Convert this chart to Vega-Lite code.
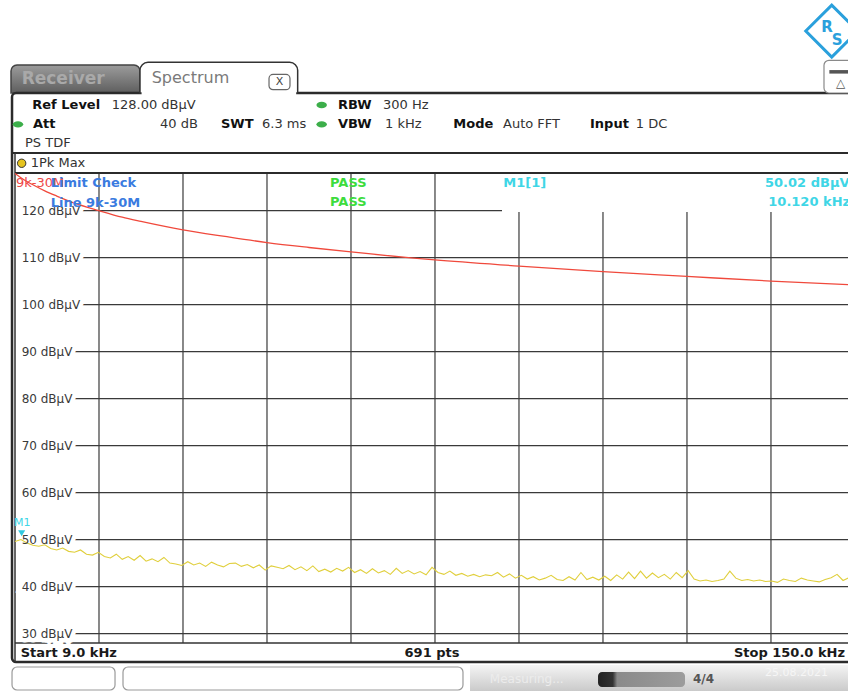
{
 "$schema": "https://vega.github.io/schema/vega-lite/v6.json",
 "width": 833,
 "height": 470,
 "autosize": {"type": "none"},
 "padding": {"left": 15, "top": 173, "right": 0, "bottom": 48},
 "background": "#ffffff",
 "config": {"view": {"stroke": null}, "text": {"font": "DejaVu Sans"}, "axis": {"disable": true}},
 "data": {"values": [{}]},
 "datasets": {
  "trace": [
   {"f":9,"level":49.6},{"f":10,"level":50.0},{"f":11,"level":49.3},{"f":12,"level":48.8},{"f":13,"level":48.6},{"f":14,"level":48.9},{"f":15,"level":48.1},{"f":16,"level":47.8},{"f":17,"level":48.2},{"f":18,"level":47.5},
   {"f":19,"level":47.3},{"f":20,"level":47.8},{"f":21,"level":46.9},{"f":22,"level":46.7},{"f":23,"level":47.3},{"f":24,"level":46.4},{"f":25,"level":46.1},{"f":26,"level":46.9},{"f":27,"level":45.8},{"f":28,"level":46.4},
   {"f":29,"level":45.6},{"f":30,"level":46.6},{"f":31,"level":45.4},{"f":32,"level":45.9},{"f":33,"level":45.3},{"f":34,"level":46.2},{"f":35,"level":45.0},{"f":36,"level":44.8},{"f":37,"level":44.5},{"f":38,"level":45.3},
   {"f":39,"level":44.6},{"f":40,"level":45.0},{"f":41,"level":44.3},{"f":42,"level":45.2},{"f":43,"level":44.6},{"f":44,"level":44.2},{"f":45,"level":44.9},{"f":46,"level":45.0},{"f":47,"level":44.3},{"f":48,"level":44.7},
   {"f":49,"level":44.0},{"f":50,"level":44.6},{"f":51,"level":43.5},{"f":52,"level":44.4},{"f":53,"level":44.1},{"f":54,"level":43.8},{"f":55,"level":44.5},{"f":56,"level":43.6},{"f":57,"level":44.2},{"f":58,"level":43.4},
   {"f":59,"level":44.4},{"f":60,"level":43.2},{"f":61,"level":43.7},{"f":62,"level":43.1},{"f":63,"level":43.9},{"f":64,"level":43.3},{"f":65,"level":44.1},{"f":66,"level":43.0},{"f":67,"level":43.6},{"f":68,"level":42.8},
   {"f":69,"level":43.8},{"f":70,"level":42.9},{"f":71,"level":43.4},{"f":72,"level":42.6},{"f":73,"level":43.9},{"f":74,"level":42.8},{"f":75,"level":43.4},{"f":76,"level":42.7},{"f":77,"level":43.2},{"f":78,"level":42.5},
   {"f":79,"level":44.1},{"f":80,"level":43.0},{"f":81,"level":42.6},{"f":82,"level":43.3},{"f":83,"level":42.4},{"f":84,"level":42.8},{"f":85,"level":42.2},{"f":86,"level":42.6},{"f":87,"level":42.1},{"f":88,"level":42.5},
   {"f":89,"level":42.3},{"f":90,"level":43.0},{"f":91,"level":42.0},{"f":92,"level":42.7},{"f":93,"level":41.8},{"f":94,"level":42.4},{"f":95,"level":41.6},{"f":96,"level":42.1},{"f":97,"level":41.4},{"f":98,"level":41.8},
   {"f":99,"level":42.4},{"f":100,"level":41.5},{"f":101,"level":41.3},{"f":102,"level":42.1},{"f":103,"level":41.4},{"f":104,"level":43.0},{"f":105,"level":41.5},{"f":106,"level":42.0},{"f":107,"level":41.4},{"f":108,"level":42.2},
   {"f":109,"level":41.3},{"f":110,"level":42.5},{"f":111,"level":41.6},{"f":112,"level":43.1},{"f":113,"level":41.7},{"f":114,"level":43.3},{"f":115,"level":41.8},{"f":116,"level":42.9},{"f":117,"level":41.9},{"f":118,"level":42.6},
   {"f":119,"level":41.6},{"f":120,"level":43.0},{"f":121,"level":41.9},{"f":122,"level":43.4},{"f":123,"level":41.6},{"f":124,"level":41.2},{"f":125,"level":41.4},{"f":126,"level":41.1},{"f":127,"level":41.3},{"f":128,"level":41.6},
   {"f":129,"level":43.3},{"f":130,"level":41.8},{"f":131,"level":41.3},{"f":132,"level":41.5},{"f":133,"level":41.2},{"f":134,"level":41.4},{"f":135,"level":41.1},{"f":136,"level":41.2},{"f":137,"level":40.9},{"f":138,"level":41.6},
   {"f":139,"level":41.3},{"f":140,"level":41.1},{"f":141,"level":41.8},{"f":142,"level":41.4},{"f":143,"level":41.2},{"f":144,"level":41.0},{"f":145,"level":41.5},{"f":146,"level":41.9},{"f":147,"level":42.6},{"f":148,"level":41.3},
   {"f":149,"level":41.9},{"f":150,"level":41.5}
  ],
  "limit": [
   {"f":9,"level":127.9},{"f":10,"level":127.0},{"f":11,"level":126.2},{"f":12,"level":125.5},{"f":14,"level":124.2},{"f":16,"level":123.1},{"f":19,"level":121.6},{"f":23.1,"level":120.0},{"f":27,"level":118.6},{"f":30.15,"level":117.7},
   {"f":37.2,"level":115.9},{"f":44.25,"level":114.5},{"f":51.3,"level":113.2},{"f":58.35,"level":112.15},{"f":65.4,"level":111.2},{"f":79.5,"level":109.5},{"f":93.6,"level":108.2},{"f":107.7,"level":107.0},{"f":121.8,"level":106.0},{"f":135.9,"level":105.0},{"f":150,"level":104.2}
  ],
  "ylab": [
   {"level":120,"label":"120 dBµV"},{"level":110,"label":"110 dBµV"},{"level":100,"label":"100 dBµV"},{"level":90,"label":"90 dBµV"},{"level":80,"label":"80 dBµV"},
   {"level":70,"label":"70 dBµV"},{"level":60,"label":"60 dBµV"},{"level":50,"label":"50 dBµV"},{"level":40,"label":"40 dBµV"},{"level":30,"label":"30 dBµV"}
  ],
  "xgrid": [{"f":23.1},{"f":37.2},{"f":51.3},{"f":65.4},{"f":79.5},{"f":93.6},{"f":107.7},{"f":121.8},{"f":135.9}]
 },
 "layer": [
  {"mark": {"type": "rect", "cornerRadiusTopLeft": 6, "cornerRadiusTopRight": 6, "stroke": "#444444", "strokeWidth": 1.5,
    "fill": {"gradient": "linear", "x1": 0, "y1": 0, "x2": 0, "y2": 1, "stops": [{"offset": 0, "color": "#9c9c9c"}, {"offset": 1, "color": "#5e5e5e"}]}},
   "encoding": {"x": {"datum": 8.33}, "x2": {"datum": 29.98}, "y": {"datum": 150.98}, "y2": {"datum": 145.02}}},
  {"mark": {"type": "rect", "cornerRadius": 4, "stroke": "#2b2b2b", "strokeWidth": 2.5, "fill": "#ffffff", "fillOpacity": 0},
   "encoding": {"x": {"datum": 8.5}, "x2": {"datum": 150.8}, "y": {"datum": 145.02}, "y2": {"datum": 23.96}}},
  {"mark": {"type": "rect", "cornerRadiusTopLeft": 8, "cornerRadiusTopRight": 8, "stroke": "#333333", "strokeWidth": 1.5, "fill": "#ffffff"},
   "encoding": {"x": {"datum": 29.98}, "x2": {"datum": 56.45}, "y": {"datum": 151.55}, "y2": {"datum": 145.02}}},
  {"mark": {"type": "rect", "fill": "#ffffff"},
   "encoding": {"x": {"datum": 30.25}, "x2": {"datum": 56.2}, "y": {"datum": 145.4}, "y2": {"datum": 144.5}}},
  {"mark": {"type": "rect", "cornerRadius": 4, "stroke": "#666666", "strokeWidth": 1.2, "fill": "#ffffff"},
   "encoding": {"x": {"datum": 51.64}, "x2": {"datum": 55.16}, "y": {"datum": 148.98}, "y2": {"datum": 145.72}}},
  {"mark": {"type": "text", "text": "X", "fontSize": 11, "align": "center", "baseline": "middle", "color": "#444444"},
   "encoding": {"x": {"datum": 53.4}, "y": {"datum": 147.35}}},
  {"mark": {"type": "text", "text": "Receiver", "fontSize": 17, "fontWeight": "bold", "align": "left", "baseline": "middle", "color": "#a9a9a9"},
   "encoding": {"x": {"datum": 10.12}, "y": {"datum": 148.0}}},
  {"mark": {"type": "text", "text": "Spectrum", "fontSize": 16, "align": "left", "baseline": "middle", "color": "#7a7a7a"},
   "encoding": {"x": {"datum": 31.95}, "y": {"datum": 148.28}}},
  {"mark": {"type": "rect", "cornerRadius": 5, "stroke": "#8a8a8a", "strokeWidth": 1.2, "fill": "#ffffff"},
   "encoding": {"x": {"datum": 144.8}, "x2": {"datum": 151}, "y": {"datum": 151.98}, "y2": {"datum": 145.02}}},
  {"mark": {"type": "rect", "fill": "#555555"},
   "encoding": {"x": {"datum": 145.7}, "x2": {"datum": 149}, "y": {"datum": 149.9}, "y2": {"datum": 149.15}}},
  {"mark": {"type": "text", "text": "△", "fontSize": 12, "align": "center", "baseline": "middle", "color": "#555555"},
   "encoding": {"x": {"datum": 147.6}, "y": {"datum": 147.15}}},
  {"mark": {"type": "point", "shape": "diamond", "size": 2700, "filled": false, "stroke": "#2aa0dc", "strokeWidth": 3, "opacity": 1},
   "encoding": {"x": {"datum": 146.1}, "y": {"datum": 158.2}}},
  {"mark": {"type": "text", "text": "R", "fontSize": 15, "fontWeight": "bold", "align": "center", "baseline": "middle", "color": "#2aa0dc"},
   "encoding": {"x": {"datum": 145.3}, "y": {"datum": 159.15}}},
  {"mark": {"type": "text", "text": "S", "fontSize": 15, "fontWeight": "bold", "align": "center", "baseline": "middle", "color": "#2aa0dc"},
   "encoding": {"x": {"datum": 147.0}, "y": {"datum": 156.3}}},
  {"mark": {"type": "rule", "stroke": "#2b2b2b", "strokeWidth": 2},
   "encoding": {"x": {"datum": 8.5}, "x2": {"datum": 152}, "y": {"datum": 132.26}}},
  {"data": {"name": "xgrid"},
   "mark": {"type": "rule", "stroke": "#3a3a3a", "strokeWidth": 1.2},
   "encoding": {"x": {"field": "f", "type": "quantitative"}, "y": {"datum": 128}, "y2": {"datum": 28}}},
  {"data": {"name": "ylab"},
   "mark": {"type": "rule", "stroke": "#3a3a3a", "strokeWidth": 1.2},
   "encoding": {"y": {"field": "level", "type": "quantitative"}, "x": {"datum": 10.3}, "x2": {"datum": 152}}},
  {"mark": {"type": "rule", "stroke": "#333333", "strokeWidth": 1.5},
   "encoding": {"x": {"datum": 9}, "y": {"datum": 132.26}, "y2": {"datum": 23.96}}},
  {"mark": {"type": "rect", "fill": "#ffffff"},
   "encoding": {"x": {"datum": 90.75}, "x2": {"datum": 152}, "y": {"datum": 127.9}, "y2": {"datum": 119.7}}},
  {"mark": {"type": "rule", "stroke": "#2b2b2b", "strokeWidth": 2},
   "encoding": {"x": {"datum": 9}, "x2": {"datum": 152}, "y": {"datum": 128}}},
  {"mark": {"type": "rule", "stroke": "#333333", "strokeWidth": 1.5},
   "encoding": {"x": {"datum": 9}, "x2": {"datum": 152}, "y": {"datum": 28}}},
  {"data": {"name": "ylab"},
   "mark": {"type": "text", "fontSize": 12, "align": "left", "baseline": "middle", "fill": "#ffffff", "stroke": "#ffffff", "strokeWidth": 9},
   "encoding": {"x": {"datum": 10.12}, "y": {"field": "level", "type": "quantitative"}, "text": {"field": "label"}}},
  {"data": {"name": "limit"},
   "mark": {"type": "line", "color": "#f0493c", "strokeWidth": 1.3, "interpolate": "monotone"},
   "encoding": {"x": {"field": "f", "type": "quantitative"}, "y": {"field": "level", "type": "quantitative"}}},
  {"data": {"name": "trace"},
   "mark": {"type": "line", "color": "#e0cf3c", "strokeWidth": 1.1},
   "encoding": {
    "x": {"field": "f", "type": "quantitative", "scale": {"domain": [9, 148.83], "nice": false, "zero": false}},
    "y": {"field": "level", "type": "quantitative", "scale": {"domain": [28, 128], "nice": false, "zero": false}}}},
  {"data": {"name": "ylab"},
   "mark": {"type": "text", "fontSize": 12, "align": "left", "baseline": "middle", "color": "#3a3a3a"},
   "encoding": {"x": {"datum": 10.12}, "y": {"field": "level", "type": "quantitative"}, "text": {"field": "label"}}},
  {"mark": {"type": "text", "text": "Ref Level", "fontSize": 13, "fontWeight": "bold", "align": "left", "baseline": "middle", "color": "#111111"},
   "encoding": {"x": {"datum": 11.9}, "y": {"datum": 142.47}}},
  {"mark": {"type": "text", "text": "128.00 dBµV", "fontSize": 13, "align": "left", "baseline": "middle", "color": "#333333"},
   "encoding": {"x": {"datum": 25.23}, "y": {"datum": 142.47}}},
  {"mark": {"type": "point", "shape": "M-1,0A1,0.6 0 1,0 1,0A1,0.6 0 1,0 -1,0Z", "size": 110, "filled": true, "color": "#3cae4a", "opacity": 1},
   "encoding": {"x": {"datum": 60.48}, "y": {"datum": 142.47}}},
  {"mark": {"type": "text", "text": "RBW", "fontSize": 13, "fontWeight": "bold", "align": "left", "baseline": "middle", "color": "#111111"},
   "encoding": {"x": {"datum": 63.22}, "y": {"datum": 142.47}}},
  {"mark": {"type": "text", "text": "300 Hz", "fontSize": 13, "align": "left", "baseline": "middle", "color": "#333333"},
   "encoding": {"x": {"datum": 70.77}, "y": {"datum": 142.47}}},
  {"mark": {"type": "point", "shape": "M-1,0A1,0.6 0 1,0 1,0A1,0.6 0 1,0 -1,0Z", "size": 110, "filled": true, "color": "#3cae4a", "opacity": 1},
   "encoding": {"x": {"datum": 9.5}, "y": {"datum": 138.36}}},
  {"mark": {"type": "text", "text": "Att", "fontSize": 13, "fontWeight": "bold", "align": "left", "baseline": "middle", "color": "#111111"},
   "encoding": {"x": {"datum": 12.02}, "y": {"datum": 138.36}}},
  {"mark": {"type": "text", "text": "40 dB", "fontSize": 13, "align": "left", "baseline": "middle", "color": "#333333"},
   "encoding": {"x": {"datum": 33.34}, "y": {"datum": 138.36}}},
  {"mark": {"type": "text", "text": "SWT", "fontSize": 13, "fontWeight": "bold", "align": "left", "baseline": "middle", "color": "#111111"},
   "encoding": {"x": {"datum": 43.58}, "y": {"datum": 138.36}}},
  {"mark": {"type": "text", "text": "6.3 ms", "fontSize": 13, "align": "left", "baseline": "middle", "color": "#333333"},
   "encoding": {"x": {"datum": 50.46}, "y": {"datum": 138.36}}},
  {"mark": {"type": "point", "shape": "M-1,0A1,0.6 0 1,0 1,0A1,0.6 0 1,0 -1,0Z", "size": 110, "filled": true, "color": "#3cae4a", "opacity": 1},
   "encoding": {"x": {"datum": 60.48}, "y": {"datum": 138.36}}},
  {"mark": {"type": "text", "text": "VBW", "fontSize": 13, "fontWeight": "bold", "align": "left", "baseline": "middle", "color": "#111111"},
   "encoding": {"x": {"datum": 63.22}, "y": {"datum": 138.36}}},
  {"mark": {"type": "text", "text": "1 kHz", "fontSize": 13, "align": "left", "baseline": "middle", "color": "#333333"},
   "encoding": {"x": {"datum": 71.11}, "y": {"datum": 138.36}}},
  {"mark": {"type": "text", "text": "Mode", "fontSize": 13, "fontWeight": "bold", "align": "left", "baseline": "middle", "color": "#111111"},
   "encoding": {"x": {"datum": 82.58}, "y": {"datum": 138.36}}},
  {"mark": {"type": "text", "text": "Auto FFT", "fontSize": 13, "align": "left", "baseline": "middle", "color": "#333333"},
   "encoding": {"x": {"datum": 90.92}, "y": {"datum": 138.36}}},
  {"mark": {"type": "text", "text": "Input", "fontSize": 13, "fontWeight": "bold", "align": "left", "baseline": "middle", "color": "#111111"},
   "encoding": {"x": {"datum": 105.52}, "y": {"datum": 138.36}}},
  {"mark": {"type": "text", "text": "1 DC", "fontSize": 13, "align": "left", "baseline": "middle", "color": "#333333"},
   "encoding": {"x": {"datum": 113.2}, "y": {"datum": 138.36}}},
  {"mark": {"type": "text", "text": "PS TDF", "fontSize": 13, "align": "left", "baseline": "middle", "color": "#333333"},
   "encoding": {"x": {"datum": 10.68}, "y": {"datum": 134.32}}},
  {"mark": {"type": "point", "shape": "circle", "size": 70, "filled": true, "fill": "#e6c41e", "stroke": "#333333", "strokeWidth": 1, "opacity": 1},
   "encoding": {"x": {"datum": 10.12}, "y": {"datum": 130.07}}},
  {"mark": {"type": "text", "text": "1Pk Max", "fontSize": 13, "align": "left", "baseline": "middle", "color": "#333333"},
   "encoding": {"x": {"datum": 11.63}, "y": {"datum": 130.07}}},
  {"mark": {"type": "text", "text": "9k-30M", "fontSize": 13, "align": "left", "baseline": "middle", "color": "#ee4848"},
   "encoding": {"x": {"datum": 9.17}, "y": {"datum": 125.8}}},
  {"mark": {"type": "text", "text": "Limit Check", "fontSize": 13, "fontWeight": "bold", "align": "left", "baseline": "middle", "color": "#3a7be0"},
   "encoding": {"x": {"datum": 14.99}, "y": {"datum": 125.8}}},
  {"mark": {"type": "text", "text": "Line 9k-30M", "fontSize": 13, "fontWeight": "bold", "align": "left", "baseline": "middle", "color": "#3a7be0"},
   "encoding": {"x": {"datum": 14.99}, "y": {"datum": 121.68}}},
  {"mark": {"type": "text", "text": "PASS", "fontSize": 13, "fontWeight": "bold", "align": "left", "baseline": "middle", "color": "#3ddc3d"},
   "encoding": {"x": {"datum": 61.88}, "y": {"datum": 125.8}}},
  {"mark": {"type": "text", "text": "PASS", "fontSize": 13, "fontWeight": "bold", "align": "left", "baseline": "middle", "color": "#3ddc3d"},
   "encoding": {"x": {"datum": 61.88}, "y": {"datum": 121.77}}},
  {"mark": {"type": "text", "text": "M1[1]", "fontSize": 13, "fontWeight": "bold", "align": "left", "baseline": "middle", "color": "#3fd6e6"},
   "encoding": {"x": {"datum": 90.97}, "y": {"datum": 125.8}}},
  {"mark": {"type": "text", "text": "50.02 dBµV", "fontSize": 13, "fontWeight": "bold", "align": "left", "baseline": "middle", "color": "#3fd6e6"},
   "encoding": {"x": {"datum": 134.9}, "y": {"datum": 125.8}}},
  {"mark": {"type": "text", "text": "10.120 kHz", "fontSize": 13, "fontWeight": "bold", "align": "left", "baseline": "middle", "color": "#3fd6e6"},
   "encoding": {"x": {"datum": 135.45}, "y": {"datum": 121.77}}},
  {"mark": {"type": "text", "text": "M1", "fontSize": 11, "align": "left", "baseline": "middle", "color": "#3fd6e6"},
   "encoding": {"x": {"datum": 8.83}, "y": {"datum": 53.47}}},
  {"mark": {"type": "point", "shape": "triangle-down", "size": 50, "filled": true, "color": "#30c8e0", "opacity": 1},
   "encoding": {"x": {"datum": 10.12}, "y": {"datum": 51.34}}},
  {"mark": {"type": "text", "text": "Start 9.0 kHz", "fontSize": 13, "fontWeight": "bold", "align": "left", "baseline": "middle", "color": "#1a1a1a"},
   "encoding": {"x": {"datum": 9.96}, "y": {"datum": 25.81}}},
  {"mark": {"type": "text", "text": "691 pts", "fontSize": 13, "fontWeight": "bold", "align": "center", "baseline": "middle", "color": "#1a1a1a"},
   "encoding": {"x": {"datum": 79.0}, "y": {"datum": 25.81}}},
  {"mark": {"type": "text", "text": "Stop 150.0 kHz", "fontSize": 13, "fontWeight": "bold", "align": "right", "baseline": "middle", "color": "#1a1a1a"},
   "encoding": {"x": {"datum": 148.33}, "y": {"datum": 25.81}}},
  {"mark": {"type": "rect", "fill": {"gradient": "linear", "x1": 0, "y1": 0, "x2": 0, "y2": 1, "stops": [{"offset": 0, "color": "#f4f4f4"}, {"offset": 1, "color": "#c4c4c4"}]}},
   "encoding": {"x": {"datum": 85.38}, "x2": {"datum": 152}, "y": {"datum": 23.32}, "y2": {"datum": 17.0}}},
  {"mark": {"type": "rect", "cornerRadius": 5, "stroke": "#9a9a9a", "strokeWidth": 1.2, "fill": "#ffffff"},
   "encoding": {"x": {"datum": 8.5}, "x2": {"datum": 25.79}, "y": {"datum": 22.89}, "y2": {"datum": 18.0}}},
  {"mark": {"type": "rect", "cornerRadius": 5, "stroke": "#9a9a9a", "strokeWidth": 1.2, "fill": "#ffffff"},
   "encoding": {"x": {"datum": 27.13}, "x2": {"datum": 84.2}, "y": {"datum": 22.89}, "y2": {"datum": 18.0}}},
  {"mark": {"type": "text", "text": "Measuring...", "fontSize": 12, "align": "left", "baseline": "middle", "color": "#ececec"},
   "encoding": {"x": {"datum": 88.7}, "y": {"datum": 20.34}}},
  {"mark": {"type": "rect", "cornerRadius": 4, "fill": {"gradient": "linear", "x1": 0, "y1": 0, "x2": 1, "y2": 0, "stops": [{"offset": 0, "color": "#222222"}, {"offset": 0.17, "color": "#333333"}, {"offset": 0.22, "color": "#8a8a8a"}, {"offset": 1, "color": "#9c9c9c"}]}},
   "encoding": {"x": {"datum": 106.87}, "x2": {"datum": 121.47}, "y": {"datum": 21.83}, "y2": {"datum": 18.64}}},
  {"mark": {"type": "text", "text": "4/4", "fontSize": 12, "fontWeight": "bold", "align": "left", "baseline": "middle", "color": "#555555"},
   "encoding": {"x": {"datum": 122.81}, "y": {"datum": 20.34}}},
  {"mark": {"type": "text", "text": "25.08.2021", "fontSize": 11, "align": "left", "baseline": "middle", "color": "#f6f6f6"},
   "encoding": {"x": {"datum": 134.9}, "y": {"datum": 21.6}}}
 ]
}
